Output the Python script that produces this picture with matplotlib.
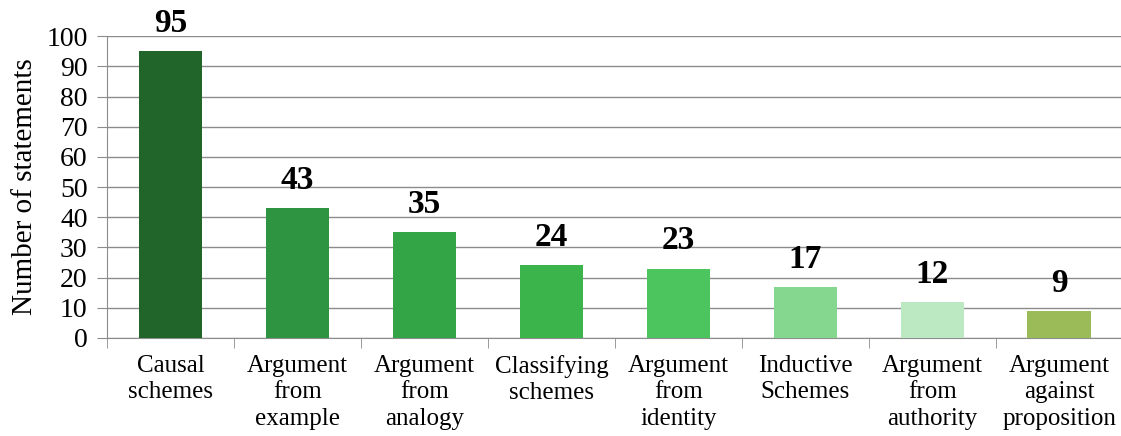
import matplotlib.pyplot as plt
import numpy as np

categories = ["Causal\nschemes", "Argument\nfrom\nexample", "Argument\nfrom\nanalogy",
              "Classifying\nschemes", "Argument\nfrom\nidentity", "Inductive\nSchemes",
              "Argument\nfrom\nauthority", "Argument\nagainst\nproposition"]
counts = [95, 43, 35, 24, 23, 17, 12, 9]
colors = ["#21652b", "#2e9441", "#33a547", "#3bb54b", "#4dc55f", "#85d68f", "#bde9c2", "#9bbb59"]

plt.rcParams['font.family'] = ['Liberation Serif', 'DejaVu Serif']

fig = plt.figure(figsize=(11.21, 4.36), dpi=100)
ax = fig.add_axes([0.0955, 0.225, 0.906, 0.692])

x = np.arange(len(categories))
ax.bar(x, counts, width=0.5, color=colors, zorder=3)
for xi, v in zip(x, counts):
    ax.text(xi, v + 4, str(v), ha='center', va='bottom', fontsize=24, fontweight='bold')

ax.set_xlim(-0.5, len(categories) - 0.5)
ax.set_ylim(0, 100)
ax.set_yticks(range(0, 101, 10))
ax.yaxis.grid(True, color='#8c8c8c', lw=1, zorder=0)
ax.set_xticks(x)
ax.set_xticklabels(categories, fontsize=18, linespacing=1.28)
ax.set_xticks(np.arange(-0.5, len(categories), 1), minor=True)
ax.tick_params(axis='x', which='major', length=0, pad=12)
ax.tick_params(axis='x', which='minor', length=7, color='#8c8c8c')
ax.tick_params(axis='y', length=7, color='#8c8c8c', labelsize=20, pad=7)
for s in ['top', 'right']:
    ax.spines[s].set_visible(False)
for s in ['left', 'bottom']:
    ax.spines[s].set_color('#8c8c8c')
ax.set_ylabel("Number of statements", fontsize=21, labelpad=6)

fig.savefig("out.png", dpi=100)
